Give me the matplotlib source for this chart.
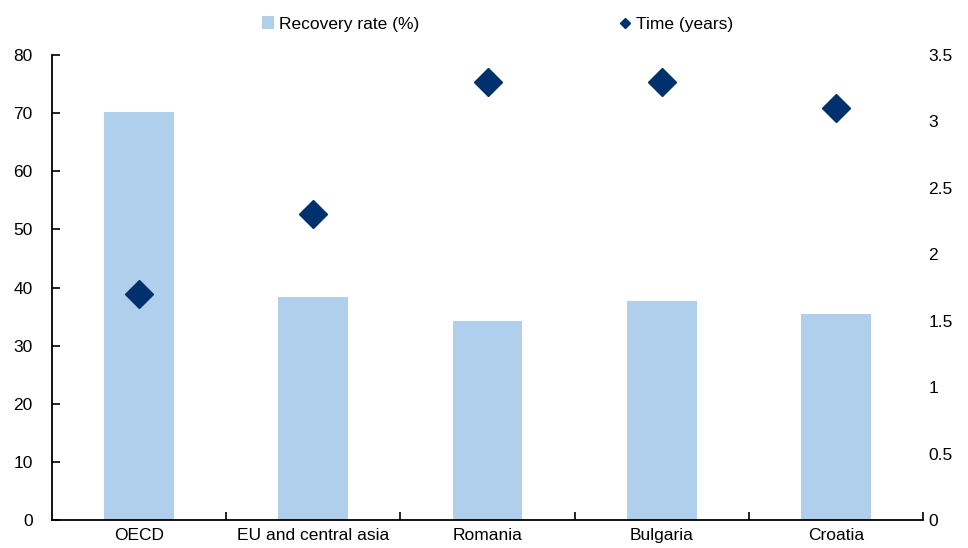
import matplotlib
matplotlib.use("Agg")
import matplotlib.pyplot as plt
from matplotlib.lines import Line2D
from matplotlib.patches import Patch

plt.rcParams["font.family"] = ["Liberation Sans", "DejaVu Sans"]

categories = ["OECD", "EU and central asia", "Romania", "Bulgaria", "Croatia"]
recovery_rate = [70.2, 38.4, 34.2, 37.7, 35.4]
time_years = [1.7, 2.3, 3.3, 3.3, 3.1]

BAR_COLOR = "#afcfec"
MARKER_COLOR = "#00306e"
FS = 12.5

fig = plt.figure(figsize=(9.68, 5.48), dpi=100)
ax = fig.add_axes([52 / 968, 1 - 520 / 548, (923 - 52) / 968, (520 - 55) / 548])
ax2 = ax.twinx()

x = list(range(len(categories)))
ax.bar(x, recovery_rate, width=0.4, color=BAR_COLOR, zorder=2)
ax2.plot(x, time_years, linestyle="none", marker="D", markersize=14.5,
         color=MARKER_COLOR, zorder=3)

ax.set_xlim(-0.5, len(categories) - 0.5)
ax.set_ylim(0, 80)
ax.set_yticks(range(0, 81, 10))
ax2.set_ylim(0, 3.5)
ax2.set_yticks([0, 0.5, 1, 1.5, 2, 2.5, 3, 3.5])
ax2.set_yticklabels(["0", "0.5", "1", "1.5", "2", "2.5", "3", "3.5"])

ax.set_xticks(x)
ax.set_xticklabels(categories)
ax.set_xticks([i + 0.5 for i in x], minor=True)
ax.tick_params(axis="x", which="major", length=0, labelsize=FS, pad=6)
ax.tick_params(axis="x", which="minor", direction="in", length=6, width=1.2)
ax.tick_params(axis="y", direction="in", length=6, width=1.2, labelsize=FS, pad=14)
ax2.tick_params(axis="y", length=0, labelsize=FS, pad=4)

for s in ["top", "right"]:
    ax.spines[s].set_visible(False)
for s in ax2.spines.values():
    s.set_visible(False)
ax.spines["left"].set_linewidth(1.3)
ax.spines["bottom"].set_linewidth(1.3)

handles = [
    Patch(facecolor=BAR_COLOR, edgecolor="none", label="Recovery rate (%)"),
    Line2D([], [], linestyle="none", marker="D", markersize=5.5,
           color=MARKER_COLOR, label="Time (years)"),
]
fig.legend(handles=handles, loc="center", bbox_to_anchor=(0.514, 1 - 24 / 548),
           ncol=2, frameon=False, fontsize=FS, handlelength=0.7,
           handleheight=0.7, handletextpad=0.3, columnspacing=11.5)

fig.savefig("out.png", dpi=100)
